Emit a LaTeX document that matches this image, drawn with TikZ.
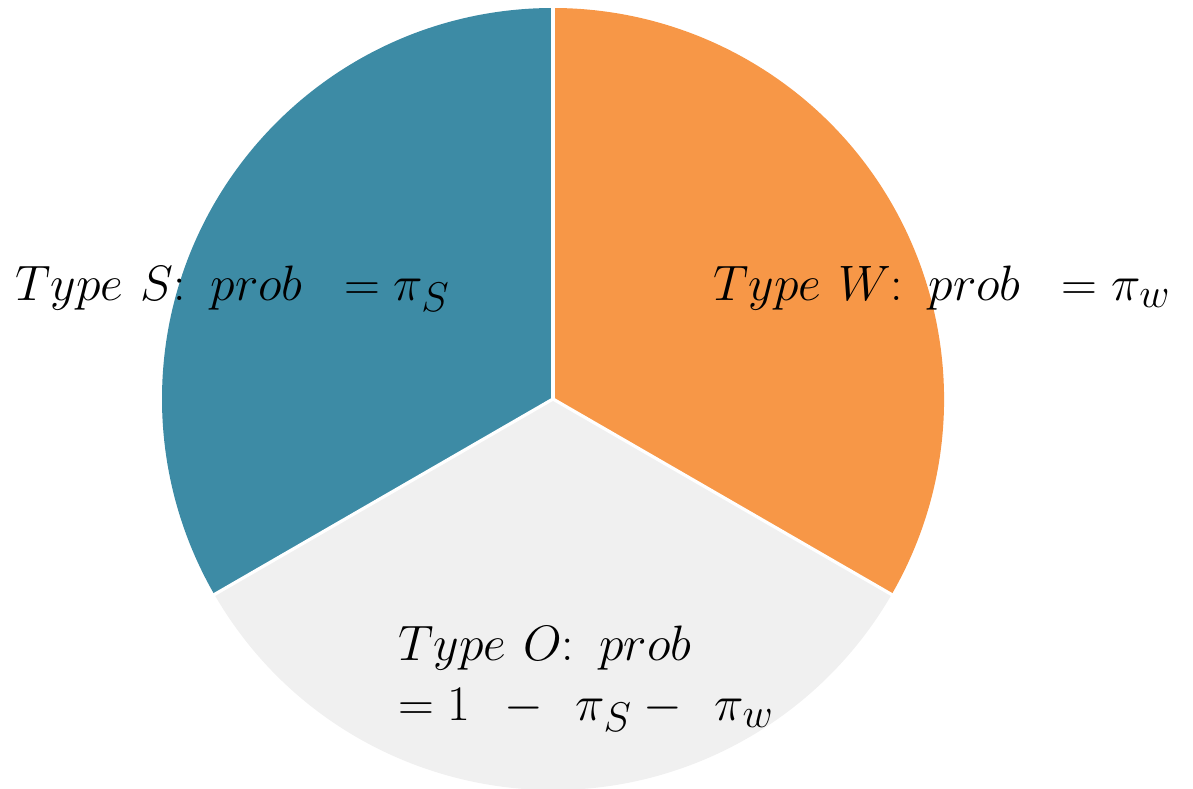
\documentclass[tikz,border=0pt]{standalone}
\definecolor{teal1}{HTML}{3D8BA5}
\definecolor{orange1}{HTML}{F79747}
\definecolor{gray1}{HTML}{F0F0F0}
\tikzset{
  sep/.style={draw=white, line width=1.6pt},
  lbl/.style={anchor=base west, inner sep=0pt, font=\fontsize{28}{33}\selectfont, text=black}
}
\begin{document}
\begin{tikzpicture}[x=0.5pt,y=0.5pt]
\useasboundingbox (0,0) rectangle (1193,-788);
\coordinate (c) at (553,-399);
\begin{scope}
\clip (0,0) rectangle (1193,-788);
\fill[teal1] (c) -- ++(90:391) arc[start angle=90, end angle=210, radius=391] -- cycle;
\fill[gray1] (c) -- ++(210:391) arc[start angle=210, end angle=330, radius=391] -- cycle;
\fill[orange1] (c) -- ++(-30:391) arc[start angle=-30, end angle=90, radius=391] -- cycle;
\draw[sep] (c) -- ++(90:392);
\draw[sep] (c) -- ++(210:392);
\draw[sep] (c) -- ++(330:392);
\end{scope}
\node[lbl] (s) at (15,-300) {$Type\ S\colon\ prob\;\; = \pi_S$};
\node[lbl] (w) at (713,-300) {$Type\ W\colon\ prob\;\; = \pi_w$};
\node[lbl] (o1) at (398,-660) {$Type\ O\colon\ prob$};
\node[lbl] (o2) at (398,-720) {$= 1\;\, -\;\, \pi_S -\;\, \pi_w$};
\end{tikzpicture}
\end{document}
